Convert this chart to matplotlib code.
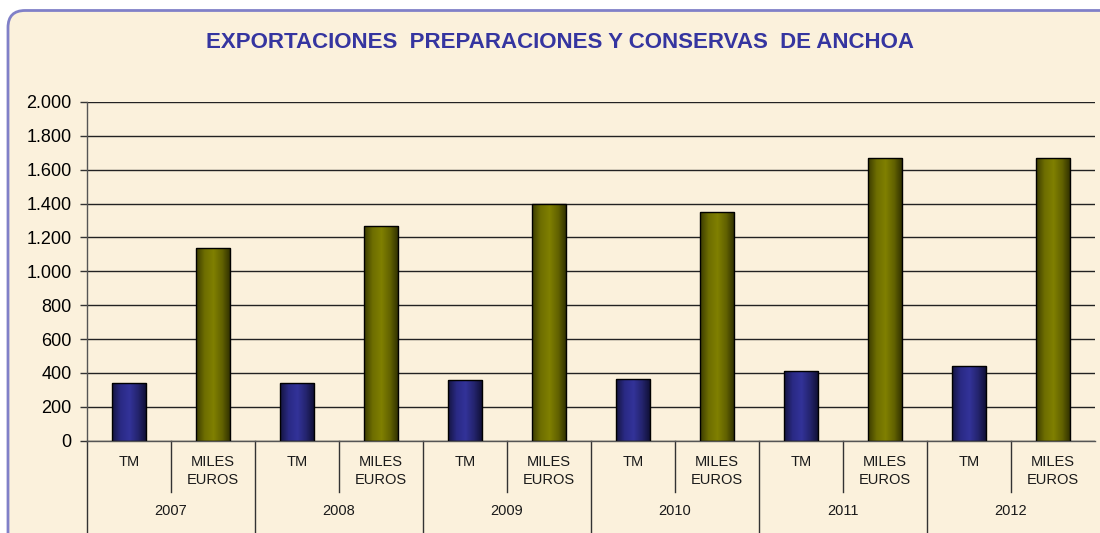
import matplotlib
matplotlib.use("Agg")
import matplotlib.pyplot as plt
import numpy as np
from matplotlib.patches import FancyBboxPatch
from matplotlib.colors import LinearSegmentedColormap
from matplotlib.ticker import FuncFormatter
from matplotlib.transforms import blended_transform_factory

# ---- data ----
years = ["2007", "2008", "2009", "2010", "2011", "2012"]
measures = ["TM", "MILES\nEUROS"]
tm_values = [339, 339, 358, 364, 413, 439]
miles_euros_values = [1136, 1268, 1400, 1351, 1668, 1668]
y_ticks = [0, 200, 400, 600, 800, 1000, 1200, 1400, 1600, 1800, 2000]
title = "EXPORTACIONES  PREPARACIONES Y CONSERVAS  DE ANCHOA"

plt.rcParams['font.family'] = ['Liberation Sans', 'DejaVu Sans']

W, H = 1100, 533
fig = plt.figure(figsize=(W / 100, H / 100), dpi=100)
fig.patch.set_facecolor("white")

# rounded parchment frame (inches coordinates)
frame = FancyBboxPatch((0.08, -0.3), 11.5, 5.33 + 0.3 - 0.105,
                       boxstyle="round,pad=0,rounding_size=0.17",
                       transform=fig.dpi_scale_trans, facecolor="#fbf1dc",
                       edgecolor="#8080c8", linewidth=2.0, zorder=-10)
fig.patches.append(frame)

ax = fig.add_axes([87 / W, (H - 440.7) / H, (1095 - 87) / W, (440.7 - 102) / H])
ax.set_facecolor("none")
ax.set_zorder(1)

n = len(years)
x_tm = np.arange(n) * 2
x_me = np.arange(n) * 2 + 1
width = 0.41

blue_cmap = LinearSegmentedColormap.from_list(
    "b", [(0, "#14143f"), (0.25, "#2a2a85"), (0.5, "#333399"), (0.75, "#24246e"), (1, "#0e0e30")])
olive_cmap = LinearSegmentedColormap.from_list(
    "o", [(0, "#3a3a00"), (0.25, "#6e6e00"), (0.5, "#808000"), (0.75, "#626200"), (1, "#2c2c00")])

grad = np.linspace(0, 1, 256).reshape(1, -1)

def draw_bars(xs, vals, cmap):
    bars = ax.bar(xs, vals, width=width, color="none", edgecolor="black",
                  linewidth=1.0, zorder=3)
    for b in bars:
        x0, y0 = b.get_x(), b.get_y()
        im = ax.imshow(grad, cmap=cmap, aspect="auto",
                       extent=[x0, x0 + b.get_width(), y0, y0 + b.get_height()],
                       zorder=2.5, interpolation="bilinear")
        im.set_clip_path(b)
    return bars

draw_bars(x_tm, tm_values, blue_cmap)
draw_bars(x_me, miles_euros_values, olive_cmap)

ax.set_xlim(-0.5, 2 * n - 0.5)
ax.set_ylim(0, 2000)
ax.set_yticks(y_ticks)
ax.yaxis.set_major_formatter(FuncFormatter(lambda v, p: f"{int(v):,}".replace(",", ".")))
ax.tick_params(axis="y", labelsize=13, length=5, width=1, color="#333333", pad=6)
ax.yaxis.grid(True, color="#222222", linewidth=1.0)
ax.set_axisbelow(True)
for s in ["top", "right"]:
    ax.spines[s].set_visible(False)
ax.spines["left"].set_color("#555555")
ax.spines["bottom"].set_color("#555555")
ax.spines["left"].set_linewidth(1.0)
ax.spines["bottom"].set_linewidth(1.0)

# multi-level x axis
ax.set_xticks([])
trans = blended_transform_factory(ax.transData, ax.transAxes)
px = 1 / (440.7 - 102)
for i in range(n):
    ax.text(x_tm[i], -21.5 * px, measures[0], transform=trans, ha="center", va="center",
            fontsize=10.5, color="#1a1a1a")
    ax.text(x_me[i], -30.5 * px, measures[1], transform=trans, ha="center", va="center",
            fontsize=10.5, linespacing=1.33, color="#1a1a1a")
    ax.text(x_tm[i] + 0.5, -70.5 * px, years[i], transform=trans, ha="center", va="center",
            fontsize=10.5, color="#1a1a1a")
    # separator between measures
    ax.plot([x_tm[i] + 0.5] * 2, [0, -51 * px], transform=trans, color="#333333",
            linewidth=1, clip_on=False)
    # year separator
    ax.plot([x_tm[i] - 0.5] * 2, [0, -91 * px], transform=trans, color="#333333",
            linewidth=1, clip_on=False)

fig.text(560 / W, 1 - 42 / H, title, ha="center", va="center", fontsize=16,
         fontweight="bold", color="#3535a0")

fig.savefig("out.png", dpi=100, facecolor=fig.get_facecolor())
